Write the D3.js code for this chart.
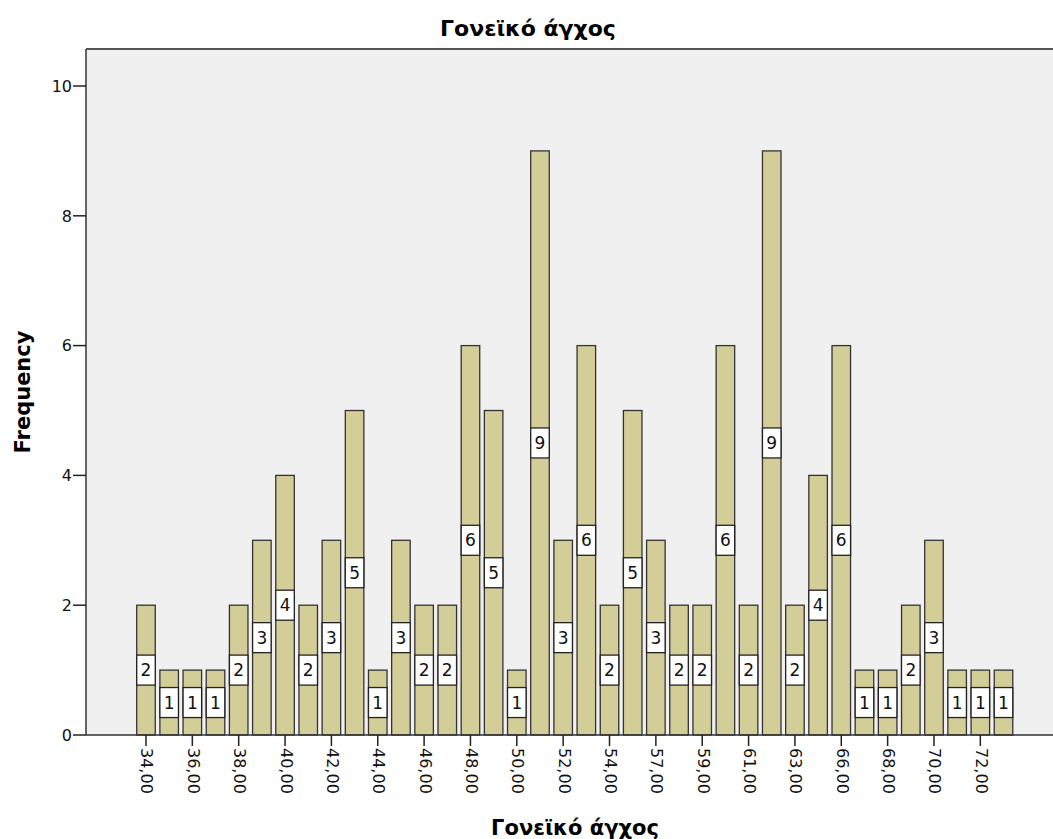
<!DOCTYPE html>
<html><head><meta charset="utf-8">
<script src="https://cdn.jsdelivr.net/npm/d3@7"></script>
<style>body{margin:0;background:#fff}svg{display:block}text{font-family:"DejaVu Sans",Arial,sans-serif}</style>
</head><body>
<svg id="c" width="1053" height="839"></svg>
<script>
const categories = ["34,00","35,00","36,00","37,00","38,00","39,00","40,00","41,00","42,00","43,00","44,00","45,00","46,00","47,00","48,00","49,00","50,00","51,00","52,00","53,00","54,00","56,00","57,00","58,00","59,00","60,00","61,00","62,00","63,00","65,00","66,00","67,00","68,00","69,00","70,00","71,00","72,00","73,00"];
const frequencies = [2,1,1,1,2,3,4,2,3,5,1,3,2,2,6,5,1,9,3,6,2,5,3,2,2,6,2,9,2,4,6,1,1,2,3,1,1,1];
const yTicks = [0,2,4,6,8,10];
const title = "Γονεϊκό άγχος";
const xTitle = "Γονεϊκό άγχος";
const yTitle = "Frequency";

const svg = d3.select("#c");
const plot = {left:86, top:49, right:1053, bottom:735};

svg.append("rect").attr("x",plot.left).attr("y",plot.top)
  .attr("width",plot.right-plot.left).attr("height",plot.bottom-plot.top).attr("fill","#f0f0f0");

const x = d3.scaleBand().domain(categories).range([134.4,1015.1]).paddingInner(0.2).paddingOuter(0.1);
const y = d3.scaleLinear().domain([0,10]).range([735,86]);

// frame lines
svg.append("line").attr("x1",plot.left).attr("x2",plot.right).attr("y1",plot.top).attr("y2",plot.top)
  .attr("stroke","#555").attr("stroke-width",2);
svg.append("line").attr("x1",plot.left).attr("x2",plot.left).attr("y1",plot.top).attr("y2",plot.bottom)
  .attr("stroke","#333").attr("stroke-width",1.5);

// bars
const g = svg.append("g");
g.selectAll("rect.bar").data(frequencies).join("rect").attr("class","bar")
  .attr("x",(d,i)=>x(categories[i])).attr("width",x.bandwidth())
  .attr("y",d=>y(d)).attr("height",d=>y(0)-y(d))
  .attr("fill","#d3ce97").attr("stroke","#333").attr("stroke-width",1.3);

// value label boxes
const lab = g.selectAll("g.lab").data(frequencies).join("g").attr("class","lab")
  .attr("transform",(d,i)=>`translate(${x(categories[i])+x.bandwidth()/2},${y(d/2)})`);
lab.append("rect").attr("x",-x.bandwidth()/2).attr("width",x.bandwidth())
  .attr("y",-15).attr("height",30).attr("fill","#fff").attr("stroke","#222").attr("stroke-width",1.3);
lab.append("text").attr("text-anchor","middle").attr("dy","0.36em")
  .attr("font-size",17).attr("fill","#111").text(d=>d);

// x axis
const xa = svg.append("g").attr("transform",`translate(0,${plot.bottom})`);
xa.append("line").attr("x1",plot.left).attr("x2",plot.right).attr("stroke","#333").attr("stroke-width",1.5);
const shown = categories.filter((c,i)=>i%2===0);
const xt = xa.selectAll("g.t").data(shown).join("g").attr("class","t")
  .attr("transform",d=>`translate(${x(d)+x.bandwidth()/2},0)`);
xt.append("line").attr("y2",11).attr("stroke","#222").attr("stroke-width",1.5);
xt.append("text").attr("transform","translate(0,13) rotate(90)")
  .attr("font-size",16).attr("fill","#111").attr("text-anchor","start")
  .attr("dominant-baseline","middle").text(d=>d);

// y axis
const ya = svg.append("g");
const yt = ya.selectAll("g.t").data(yTicks).join("g").attr("class","t")
  .attr("transform",d=>`translate(${plot.left},${y(d)})`);
yt.append("line").attr("x1",-13).attr("x2",0).attr("stroke","#222").attr("stroke-width",1.5);
yt.append("text").attr("x",-14).attr("text-anchor","end").attr("dy","0.36em")
  .attr("font-size",16).attr("fill","#111").text(d=>d);

// titles
svg.append("text").attr("x",528).attr("y",36).attr("text-anchor","middle")
  .attr("font-size",22).attr("font-weight","bold").attr("fill","#000").text(title);
svg.append("text").attr("x",575).attr("y",835).attr("text-anchor","middle")
  .attr("font-size",21).attr("font-weight","bold").attr("fill","#000").text(xTitle);
svg.append("text").attr("transform",`translate(30,${(plot.top+plot.bottom)/2}) rotate(-90)`)
  .attr("text-anchor","middle").attr("font-size",21).attr("font-weight","bold").attr("fill","#000").text(yTitle);
</script>
</body></html>
